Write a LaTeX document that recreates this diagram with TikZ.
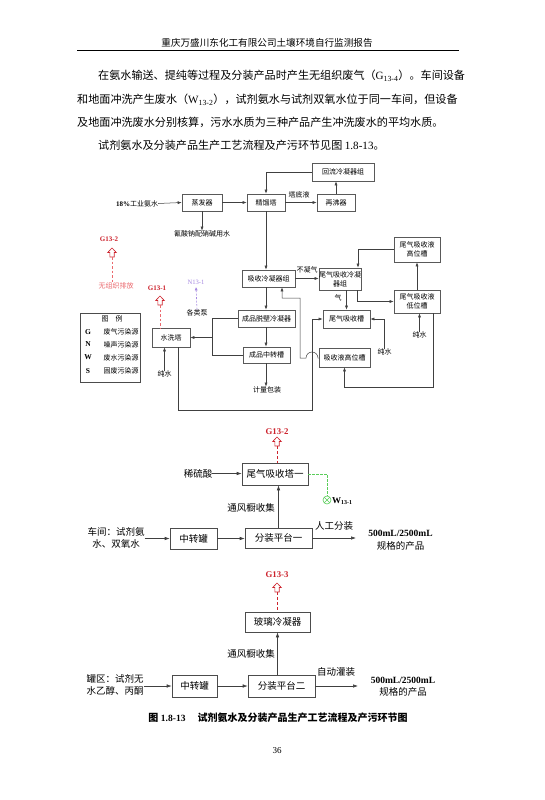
\documentclass[tikz,border=0pt]{standalone}
\usepackage{fontspec}
\setmainfont{Liberation Serif}
\newfontfamily\cjk{Noto Sans CJK SC}
\usetikzlibrary{arrows.meta,calc}
\definecolor{gred}{RGB}{205,35,45}
\definecolor{gpink}{RGB}{235,105,110}
\definecolor{npurp}{RGB}{165,135,225}
\definecolor{wgreen}{RGB}{90,205,90}
\newcommand\fsz[2]{\fontsize{#1}{#2}\selectfont}
\begin{document}
\begin{tikzpicture}[x=1pt,y=-1pt,
  box/.style={draw=black!65, line width=0.6pt, inner sep=0pt, font=\cjk\fsz{7}{9}, align=center},
  bbox/.style={draw=black!70, line width=0.6pt, inner sep=0pt, font=\cjk\fsz{9.5}{11}},
  arr/.style={-{Latex[length=4pt,width=3pt]}, line width=0.5pt, draw=black!75},
  barr/.style={-{Latex[length=5pt,width=3.5pt]}, line width=0.6pt, draw=black!75},
  lbl/.style={inner sep=0pt, font=\cjk\fsz{7}{9}},
  blbl/.style={inner sep=0pt, font=\cjk\fsz{9.5}{11}},
  body/.style={inner sep=0pt, anchor=west, font=\cjk\fsz{11.1}{13}},
  gtag/.style={inner sep=0pt, text=gred, font=\bfseries\fsz{7}{8}},
  upicon/.pic={\path[pic actions, line width=0.6pt, fill=white] (-2.2,0) -- (2.2,0) -- (2.2,-4.5) -- (4.3,-4.5) -- (0,-9) -- (-4.3,-4.5) -- (-2.2,-4.5) -- cycle;}
]
\fill[white] (0,0) rectangle (544,800);
\useasboundingbox (0,0) rectangle (544,800);

% header
\node[inner sep=0, font=\cjk\fsz{9.6}{10}] (hdr) at (267,43) {重庆万盛川东化工有限公司土壤环境自行监测报告};
\coordinate (hrA) at (77,50); \coordinate (hrB) at (459,50);
\draw[line width=0.8pt] (hrA) -- (hrB);

% body text
\node[body] (p1) at (98,76) {在氨水输送、提纯等过程及分装产品时产生无组织废气（{\rmfamily G\textsubscript{13-4}}）。车间设备};
\node[body] (p2) at (77,99.5) {和地面冲洗产生废水（{\rmfamily W\textsubscript{13-2}}），试剂氨水与试剂双氧水位于同一车间，但设备};
\node[body] (p3) at (77,122) {及地面冲洗废水分别核算，污水水质为三种产品产生冲洗废水的平均水质。};
\node[body] (p4) at (98,145) {试剂氨水及分装产品生产工艺流程及产污环节见图 {\rmfamily 1.8-13}。};

% ---------- top diagram ----------
\node[box, minimum width=62pt, minimum height=18pt] (hl) at (343,172) {回流冷凝器组};
\node[lbl] (t18) at (137,203.5) {{\rmfamily\bfseries 18\%}工业氨水};
\node[box, minimum width=40pt, minimum height=17pt] (zf) at (202,202.5) {蒸发器};
\node[box, minimum width=38pt, minimum height=17pt] (jl) at (266,202.5) {精馏塔};
\node[box, minimum width=38pt, minimum height=17pt] (zf2) at (336,202.5) {再沸器};
\node[lbl] (tdy) at (299,195) {塔底液};
\node[lbl] (tq) at (202,234) {氰酸钠配硝碱用水};
\node[box, minimum width=53pt, minimum height=17pt] (xs) at (268.5,278.5) {吸收冷凝器组};
\node[lbl] (bnq) at (307,270) {不凝气};
\node[box, minimum width=40pt, minimum height=22pt] (wq) at (340,279) {尾气吸收冷凝\\器组};
\node[box, minimum width=46pt, minimum height=25pt] (gw) at (417,249.5) {尾气吸收液\\高位槽};
\node[box, minimum width=46pt, minimum height=23pt] (dw) at (417,301.5) {尾气吸收液\\低位槽};
\node[lbl] (qi) at (338,298) {气};
\node[box, minimum width=57pt, minimum height=17pt] (cp) at (266.5,318.5) {成品脱壁冷凝器};
\node[box, minimum width=47pt, minimum height=18pt] (wx) at (346.5,319) {尾气吸收槽};
\node[box, minimum width=47pt, minimum height=16pt] (zz) at (266.5,355) {成品中转槽};
\node[box, minimum width=51pt, minimum height=19pt] (gx) at (344.5,357.5) {吸收液高位槽};
\node[lbl] (jb) at (267,390) {计量包装};
\node[box, minimum width=38pt, minimum height=19pt] (sx) at (171,337.5) {水洗塔};
\node[lbl] (pw1) at (164.5,374) {纯水};
\node[lbl] (pw2) at (384.5,352) {纯水};
\node[lbl] (pw3) at (419.5,335) {纯水};
\node[lbl] (glb) at (197,313) {各类泵};

\draw[arr] (t18.east) -- (zf.west);
\draw[arr] (zf.east) -- (jl.west);
\draw[arr] (zf.south) -- (tq.north);
\draw[arr] (jl.east) -- (zf2.west);
\draw[arr] (zf2.north) -- (zf2.north |- hl.south);
\draw[arr] (hl.west) -| (jl.north);
\draw[arr] (jl.south) -- (jl.south |- xs.north);
\draw[arr] (xs.east) -- (xs.east -| wq.west);
\draw[arr] (gw.west) -| ($(wq.north)+(18,0)$);
\draw[arr] (dw.north) -- (gw.south);
\draw[arr] ($(wq.south)+(17,0)$) |- (dw.west);
\draw[arr] (wx.north |- wq.south) -- (wx.north);
\draw[arr] (xs.south -| jl.south) -- (cp.north -| jl.south);
\draw[arr] (cp.south -| jl.south) -- (zz.north -| jl.south);
\draw[arr] (zz.south -| jl.south) -- (jb.north -| jl.south);
\coordinate (hopR) at (318,358);
\coordinate (vx) at (300,298);
\draw[arr] (gx.west |- hopR) -- (hopR) arc[start angle=0, end angle=-180, radius=6] -- (vx |- hopR) -- (vx) -| ($(xs.south)+(13.5,0)$);
\coordinate (cA) at (212,318.5);
\coordinate (cB) at (212,355);
\draw[line width=0.5pt, draw=black!75] (cp.west) -- (cA) -- (cB) -- (zz.west);
\draw[arr] (cA |- sx.east) -- (sx.east);
\coordinate (bl1) at (178,410);
\coordinate (bl2) at (312,410);
\draw[arr] (sx.south -| bl1) -- (bl1) -- (bl2) |- (wx.west);
\draw[arr] (pw1.north) -- (pw1.north |- sx.south);
\draw[arr] (pw2.north) |- (wx.east);
\draw[arr] (pw3.north) -- (pw3.north |- dw.south);
\coordinate (rl) at (433,387);
\draw[arr] (rl |- dw.south) -- (rl) -| (gx.south);

% legend
\node[draw=black!70, line width=0.6pt, minimum width=60pt, minimum height=69pt, inner sep=0] (leg) at (110,347.5) {};
\node[lbl] (legt) at (112,319) {图\hspace{7pt}例};
\node[inner sep=0, font=\bfseries\fsz{7.5}{8}] (lg) at (88,332) {G};
\node[lbl] (lgt) at (121,332) {废气污染源};
\node[inner sep=0, font=\bfseries\fsz{7.5}{8}] (ln) at (88,344.5) {N};
\node[lbl] (lnt) at (121,344.5) {噪声污染源};
\node[inner sep=0, font=\bfseries\fsz{7.5}{8}] (lw) at (88,357.5) {W};
\node[lbl] (lwt) at (121,357.5) {废水污染源};
\node[inner sep=0, font=\bfseries\fsz{7.5}{8}] (ls) at (88,371) {S};
\node[lbl] (lst) at (121,371) {固废污染源};

% pollution tags (top)
\node[gtag] (g2a) at (109,239) {G13-2};
\coordinate (ic2) at (112,257);
\pic[draw=gred] at (ic2) {upicon};
\node[inner sep=0, text=gpink, font=\cjk\fsz{7}{8}] (wzz) at (116,286) {无组织排放};
\draw[gpink, dash pattern=on 2.5pt off 2pt, line width=0.6pt] (ic2) -- (ic2 |- wzz.north);
\node[gtag] (g1a) at (157,288) {G13-1};
\coordinate (ic1) at (160,305);
\pic[draw=gred] at (ic1) {upicon};
\draw[gpink, dash pattern=on 2.5pt off 2pt, line width=0.6pt] (ic1) -- (ic1 |- sx.north);
\node[inner sep=0, text=npurp, font=\fsz{6.6}{7}] (n1) at (196,282) {N13-1};
\draw[npurp, dash pattern=on 2pt off 1.5pt, line width=0.6pt, -{Latex[length=3.5pt,width=3pt]}] (glb.north) -- ($(n1.south)+(0,2.5)$);

% ---------- bottom diagram 1 ----------
\node[inner sep=0, text=gred, font=\bfseries\fsz{8.8}{9}] (g2b) at (277,432) {G13-2};
\coordinate (ic3) at (277,446);
\pic[draw=gred] at (ic3) {upicon};
\node[bbox, minimum width=66pt, minimum height=22pt] (wt1) at (275,474) {尾气吸收塔一};
\draw[gred, dash pattern=on 3pt off 2pt, line width=0.6pt] (ic3) -- (ic3 |- wt1.north);
\node[blbl] (xls) at (198,473.5) {稀硫酸};
\draw[barr] (xls.east) -- (xls.east -| wt1.west);
\coordinate (wc) at (327,500);
\draw[wgreen, dash pattern=on 2.5pt off 1.5pt, line width=0.7pt] (wt1.east) -| ($(wc)+(0,-4)$);
\draw[wgreen, line width=0.6pt] (wc) circle[radius=4];
\draw[wgreen, line width=0.6pt] ($(wc)+(-2.8,-2.8)$) -- ($(wc)+(2.8,2.8)$);
\draw[wgreen, line width=0.6pt] ($(wc)+(-2.8,2.8)$) -- ($(wc)+(2.8,-2.8)$);
\node[anchor=west, inner sep=0, font=\bfseries\fsz{9}{10}] (w131) at (332,501) {W\textsubscript{13-1}};
\node[blbl] (tf1) at (251,508) {通风橱收集};
\node[bbox, minimum width=67pt, minimum height=20pt] (fz1) at (278.5,538) {分装平台一};
\draw[barr] (fz1.north) -- (fz1.north |- wt1.south);
\node[bbox, minimum width=47pt, minimum height=21pt] (zz1) at (193.5,538.5) {中转罐};
\node[blbl, align=center, font=\cjk\fsz{9.5}{12.5}] (src1) at (116,538) {车间：试剂氨\\水、双氧水};
\draw[barr] (zz1.west -| src1.east) -- (zz1.west);
\draw[barr] (zz1.east) -- (zz1.east -| fz1.west);
\coordinate (e1) at (356,538);
\draw[barr] (fz1.east) -- (e1);
\node[blbl] (rg) at (334,526) {人工分装};
\node[inner sep=0, align=center, font=\fsz{9.5}{12.5}] (pr1) at (400.5,540) {\bfseries 500mL/2500mL\\{\cjk 规格的产品}};

% ---------- bottom diagram 2 ----------
\node[inner sep=0, text=gred, font=\bfseries\fsz{8.8}{9}] (g3) at (277,575) {G13-3};
\coordinate (ic4) at (277,592);
\pic[draw=gred] at (ic4) {upicon};
\node[bbox, minimum width=65pt, minimum height=20pt] (bl) at (277.5,622) {玻璃冷凝器};
\draw[gred, dash pattern=on 3pt off 2pt, line width=0.6pt] (ic4) -- (ic4 |- bl.north);
\node[blbl] (tf2) at (251,654) {通风橱收集};
\node[bbox, minimum width=67pt, minimum height=22pt] (fz2) at (281.5,686) {分装平台二};
\draw[barr] (bl.south |- fz2.north) -- (bl.south);
\node[bbox, minimum width=45pt, minimum height=22pt] (zz2) at (194.5,686) {中转罐};
\node[blbl, align=left, font=\cjk\fsz{9.5}{12.5}] (src2) at (115,685) {罐区：试剂无\\水乙醇、丙酮};
\draw[barr] (zz2.west -| src2.east) -- (zz2.west);
\draw[barr] (zz2.east) -- (zz2.east -| fz2.west);
\coordinate (e2) at (358,686);
\draw[barr] (fz2.east) -- (e2);
\node[blbl] (zd) at (336,672) {自动灌装};
\node[inner sep=0, align=center, font=\fsz{9.5}{12.5}] (pr2) at (403,686.5) {\bfseries 500mL/2500mL\\{\cjk 规格的产品}};

% caption & page number
\node[inner sep=0] (cap) at (278,718) {{\cjk\bfseries\fsz{10}{11}图} {\bfseries\fsz{9.5}{11}1.8-13}\hspace{12pt}{\cjk\bfseries\fsz{10}{11}试剂氨水及分装产品生产工艺流程及产污环节图}};
\node[inner sep=0, font=\fsz{9}{10}] (pg) at (277,751) {36};
\end{tikzpicture}
\end{document}
